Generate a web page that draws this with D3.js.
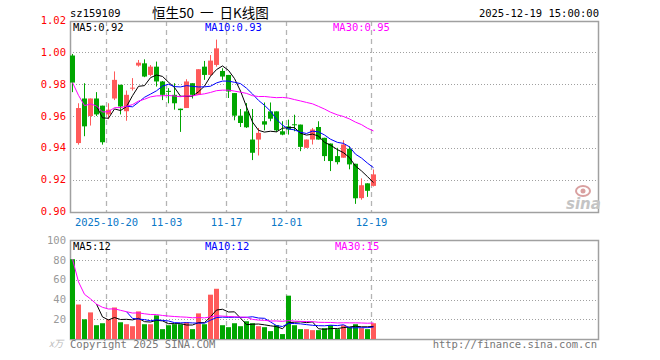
<!DOCTYPE html>
<html><head><meta charset="utf-8">
<script src="https://cdn.jsdelivr.net/npm/d3@7"></script>
<style>body{margin:0;background:#fff;}svg{display:block;}</style>
</head><body>
<svg id="c" width="660" height="360"></svg>
<script>
const dates = ["10-10","10-13","10-14","10-15","10-16","10-17","10-20","10-21","10-22","10-23","10-24",
"10-27","10-28","10-29","10-30","10-31","11-03","11-04","11-05","11-06","11-07",
"11-10","11-11","11-12","11-13","11-14","11-17","11-18","11-19","11-20","11-21",
"11-24","11-25","11-26","11-27","11-28","12-01","12-02","12-03","12-04","12-05",
"12-08","12-09","12-10","12-11","12-12","12-15","12-16","12-17","12-18","12-19"];
const open  = [0.998,0.943,0.971,0.960,0.971,0.9665,0.961,0.971,0.9796,0.963,0.9772,0.9917,0.9931,0.9858,0.991,0.9817,0.9758,0.9733,0.9646,0.965,0.9806,0.9733,0.991,0.9858,0.9921,0.9883,0.9858,0.9744,0.9602,0.9629,0.9452,0.9452,0.9567,0.9629,0.9629,0.9504,0.9535,0.9548,0.9546,0.940,0.9452,0.9531,0.9463,0.9427,0.9348,0.9338,0.9394,0.9300,0.9084,0.9177,0.9161];
const close = [0.981,0.965,0.9535,0.971,0.961,0.9435,0.964,0.9827,0.966,0.9733,0.9778,0.9935,0.9848,0.991,0.9817,0.9733,0.9754,0.968,0.9637,0.9817,0.9733,0.9894,0.9858,0.9948,1.0025,0.9848,0.9754,0.9602,0.9556,0.9529,0.9369,0.9494,0.9546,0.9583,0.951,0.9483,0.9515,0.9544,0.9406,0.9452,0.9515,0.9452,0.9348,0.9317,0.931,0.9421,0.9296,0.9083,0.9165,0.913,0.9233];
const high  = [0.999,0.968,0.9806,0.971,0.975,0.9665,0.968,0.988,0.9796,0.976,0.9838,0.9952,0.9956,0.992,0.9942,0.982,0.9775,0.9806,0.9646,0.9831,0.9806,0.9894,0.9946,0.9983,1.008,0.990,0.9858,0.9744,0.9644,0.9681,0.9644,0.9525,0.9685,0.9685,0.9629,0.9567,0.9577,0.9608,0.9546,0.9452,0.9525,0.9567,0.9463,0.9427,0.940,0.9448,0.941,0.9300,0.9208,0.9177,0.9264];
const low   = [0.975,0.942,0.9473,0.954,0.960,0.942,0.958,0.970,0.961,0.957,0.976,0.991,0.9844,0.985,0.9785,0.970,0.968,0.964,0.950,0.965,0.971,0.9733,0.9827,0.9852,0.991,0.9827,0.9713,0.9573,0.9531,0.9525,0.9323,0.9352,0.951,0.9567,0.950,0.9479,0.9483,0.9504,0.9379,0.940,0.9421,0.9452,0.9317,0.9254,0.9296,0.9338,0.9265,0.9048,0.9074,0.9092,0.9157];
const volume = [81,35,20,27,14,16,20,32,17,15,13,28,15,15,24,10,14,15,15,17,10,26,15,45,51,14,12,16,13,18,16,13,12,8,14,5,44,14,10,10,9,9,11,14,10,14,12,15,11,10,16];
const priceTicks = [1.02,1.00,0.98,0.96,0.94,0.92,0.90];
const volTicks = [100,80,60,40,20];
const dateLabels = [{i:6,t:"2025-10-20"},{i:16,t:"11-03"},{i:26,t:"11-17"},{i:36,t:"12-01"},{i:50,t:"12-19"}];

const RED="#ff5a5a", GREEN="#00a600", MONO="'DejaVu Sans Mono', monospace";
const svg = d3.select("#c");
const X0=70, X1=598;
const x = d3.scaleBand().domain(d3.range(88)).range([X0,X1]).paddingInner(1/6).paddingOuter(0);
const cx = i => Math.round(x(i)) + 2.5;
const yP = d3.scaleLinear().domain([0.90,1.02]).range([211.5,20.5]);
const yV = d3.scaleLinear().domain([0,100]).range([339,240.5]);

function ma(arr,n,partial){
  return arr.map((_,i)=>{
    if(i<n-1 && !partial) return null;
    return d3.mean(arr.slice(Math.max(0,i-n+1),i+1));
  });
}

// header
svg.append("text").attr("x",70).attr("y",17).attr("font-family",MONO).attr("font-size",10.5).text("sz159109");
svg.append("text").attr("x",152).attr("y",18).attr("font-family","'Noto Sans CJK SC'").attr("font-size",13.5)
  .style("white-space","pre").text("恒生50  一  日K线图");
svg.append("text").attr("x",599).attr("y",17).attr("text-anchor","end").attr("font-family",MONO).attr("font-size",10.5).text("2025-12-19 15:00:00");

function panel(y, top, bottom, ticks, tickFill, gridTicks, fmt){
  const g = svg.append("g");
  g.selectAll("line.h").data(gridTicks).join("line")
    .attr("x1",X0).attr("x2",X1+2).attr("y1",d=>Math.round(y(d))+0.5).attr("y2",d=>Math.round(y(d))+0.5)
    .attr("stroke","#a0a0a0").attr("stroke-dasharray","1,2");
  g.selectAll("line.v").data(dateLabels).join("line")
    .attr("x1",d=>Math.round(x(d.i))+0.5).attr("x2",d=>Math.round(x(d.i))+0.5)
    .attr("y1",top).attr("y2",bottom)
    .attr("stroke","#b4b4b4").attr("stroke-width",1.3).attr("stroke-dasharray","5,4");
  g.append("rect").attr("x",X0+0.5).attr("y",top+0.5).attr("width",X1-X0).attr("height",bottom-top)
    .attr("fill","none").attr("stroke","#a0a0a0").attr("stroke-width",1.5);
  g.selectAll("text.t").data(ticks).join("text")
    .attr("x",66).attr("y",d=>y(d)+3.5).attr("text-anchor","end")
    .attr("font-family",MONO).attr("font-size",10.5).attr("fill",tickFill)
    .text(fmt);
  return g;
}

panel(yP, 21, 212, priceTicks, "#ff0000", [1.00,0.98,0.96,0.94,0.92], d=>d.toFixed(2));
panel(yV, 240, 339, volTicks, "#999999", [80,60,40,20], d=>d);

// date labels
svg.selectAll("text.d").data(dateLabels).join("text")
  .attr("x",d=>Math.round(x(d.i))+0.5).attr("y",225.5).attr("text-anchor","middle")
  .attr("font-family",MONO).attr("font-size",10.5).attr("fill","#0a78c8").text(d=>d.t);

// sina watermark
const wm = svg.append("g").attr("fill","#c4c4c4");
wm.append("text").attr("x",566).attr("y",209).attr("font-family","'DejaVu Sans'").attr("font-style","italic")
  .attr("font-weight","bold").attr("font-size",15).text("sina");
wm.append("ellipse").attr("cx",583).attr("cy",191).attr("rx",7).attr("ry",5).attr("fill","none").attr("stroke","#d9a0a0").attr("stroke-width",2);
wm.append("circle").attr("cx",583).attr("cy",191).attr("r",2.5).attr("fill","#d9a0a0");

// candles
const idx = d3.range(dates.length);
const col = i => close[i] >= open[i] ? RED : GREEN;
const cg = svg.append("g");
cg.selectAll("line.w").data(idx).join("line")
  .attr("x1",i=>cx(i)).attr("x2",i=>cx(i))
  .attr("y1",i=>yP(high[i])).attr("y2",i=>yP(low[i]))
  .attr("stroke",col).attr("stroke-width",1);
cg.selectAll("rect.b").data(idx).join("rect")
  .attr("x",i=>Math.round(x(i))).attr("width",5)
  .attr("y",i=>yP(Math.max(open[i],close[i])))
  .attr("height",i=>Math.max(1,Math.abs(yP(open[i])-yP(close[i]))))
  .attr("fill",col);

// price MAs
const lineP = d3.line().defined(d=>d[1]!=null).x(d=>cx(d[0])).y(d=>yP(d[1]));
[[ma(close,5,false),"#000"],[ma(close,10,false),"#0000ff"],[ma(close,30,true),"#ff00ff"]].forEach(([m,c])=>{
  svg.append("path").datum(m.map((v,i)=>[i,v])).attr("d",lineP).attr("fill","none").attr("stroke",c).attr("stroke-width",1);
});

// volume bars
svg.append("g").selectAll("rect").data(idx).join("rect")
  .attr("x",i=>Math.round(x(i))).attr("width",5)
  .attr("y",i=>yV(volume[i])).attr("height",i=>yV(0)-yV(volume[i]))
  .attr("fill",col);
const lineV = d3.line().defined(d=>d[1]!=null).x(d=>cx(d[0])).y(d=>yV(d[1]));
[[ma(volume,5,false),"#000"],[ma(volume,10,false),"#0000ff"],[ma(volume,30,true),"#ff00ff"]].forEach(([m,c])=>{
  svg.append("path").datum(m.map((v,i)=>[i,v])).attr("d",lineV).attr("fill","none").attr("stroke",c).attr("stroke-width",1);
});

// MA legends
const lp = [["MA5:0.92","#000",73],["MA10:0.93","#0000ff",205],["MA30:0.95","#ff00ff",333]];
svg.selectAll("text.lp").data(lp).join("text").attr("x",d=>d[2]).attr("y",30.5)
  .attr("font-family",MONO).attr("font-size",10.5).attr("fill",d=>d[1]).text(d=>d[0]);
const lv = [["MA5:12","#000",73],["MA10:12","#0000ff",205],["MA30:15","#ff00ff",335]];
svg.selectAll("text.lv").data(lv).join("text").attr("x",d=>d[2]).attr("y",250)
  .attr("font-family",MONO).attr("font-size",10.5).attr("fill",d=>d[1]).text(d=>d[0]);

// footer
svg.append("text").attr("x",49).attr("y",347).attr("font-family","'Noto Sans CJK SC'").attr("font-size",9.5)
  .attr("fill","#bbbbbb").attr("font-style","italic").text("x万");
svg.append("text").attr("x",70).attr("y",348).attr("font-family",MONO).attr("font-size",10.5).attr("fill","#777").text("Copyright 2025 SINA.COM");
svg.append("text").attr("x",597).attr("y",348).attr("text-anchor","end").attr("font-family",MONO).attr("font-size",10.5).attr("fill","#777").text("http://finance.sina.com.cn");
</script>
</body></html>
